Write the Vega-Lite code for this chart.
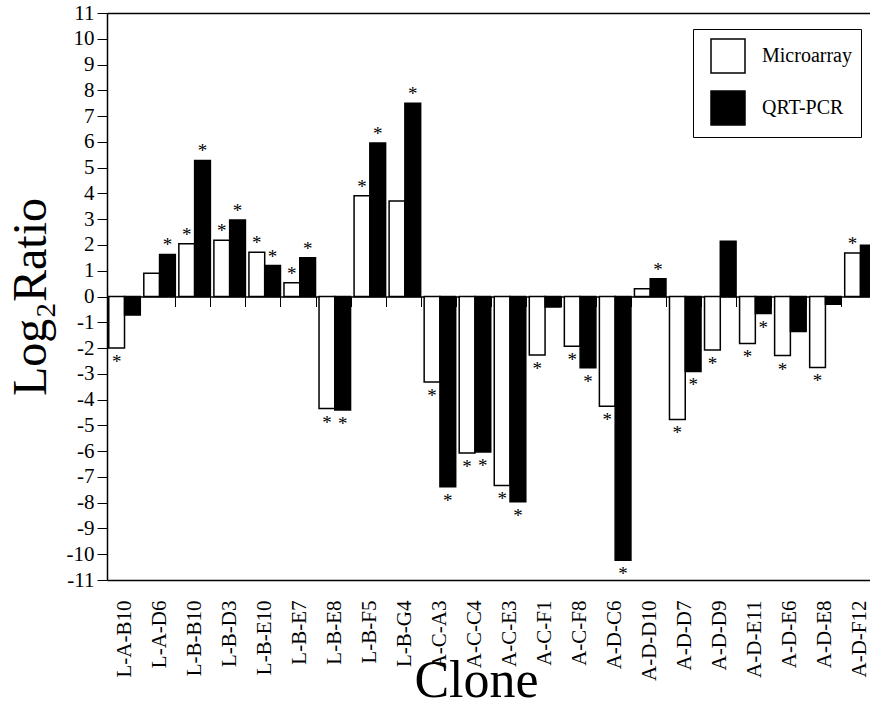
{
  "$schema": "https://vega.github.io/schema/vega-lite/v6.json",
  "width": 763,
  "height": 567,
  "autosize": {"type": "none"},
  "padding": {"left": 107, "top": 13, "right": 0, "bottom": 141},
  "background": "white",
  "config": {"font": "Liberation Serif", "view": {"stroke": null}, "axis": {"grid": false}, "axisY": {"labelFontSize": 21}},
  "data": {"values": [
    {"clone": "L-A-B10", "method": "Microarray", "value": -2.0, "sig": true},
    {"clone": "L-A-B10", "method": "QRT-PCR", "value": -0.72, "sig": false},
    {"clone": "L-A-D6", "method": "Microarray", "value": 0.9, "sig": false},
    {"clone": "L-A-D6", "method": "QRT-PCR", "value": 1.63, "sig": true},
    {"clone": "L-B-B10", "method": "Microarray", "value": 2.05, "sig": true},
    {"clone": "L-B-B10", "method": "QRT-PCR", "value": 5.28, "sig": true},
    {"clone": "L-B-D3", "method": "Microarray", "value": 2.18, "sig": true},
    {"clone": "L-B-D3", "method": "QRT-PCR", "value": 2.97, "sig": true},
    {"clone": "L-B-E10", "method": "Microarray", "value": 1.72, "sig": true},
    {"clone": "L-B-E10", "method": "QRT-PCR", "value": 1.2, "sig": true},
    {"clone": "L-B-E7", "method": "Microarray", "value": 0.53, "sig": true},
    {"clone": "L-B-E7", "method": "QRT-PCR", "value": 1.5, "sig": true},
    {"clone": "L-B-E8", "method": "Microarray", "value": -4.35, "sig": true},
    {"clone": "L-B-E8", "method": "QRT-PCR", "value": -4.4, "sig": true},
    {"clone": "L-B-F5", "method": "Microarray", "value": 3.91, "sig": true},
    {"clone": "L-B-F5", "method": "QRT-PCR", "value": 5.96, "sig": true},
    {"clone": "L-B-G4", "method": "Microarray", "value": 3.71, "sig": false},
    {"clone": "L-B-G4", "method": "QRT-PCR", "value": 7.5, "sig": true},
    {"clone": "A-C-A3", "method": "Microarray", "value": -3.32, "sig": true},
    {"clone": "A-C-A3", "method": "QRT-PCR", "value": -7.38, "sig": true},
    {"clone": "A-C-C4", "method": "Microarray", "value": -6.07, "sig": true},
    {"clone": "A-C-C4", "method": "QRT-PCR", "value": -6.03, "sig": true},
    {"clone": "A-C-E3", "method": "Microarray", "value": -7.33, "sig": true},
    {"clone": "A-C-E3", "method": "QRT-PCR", "value": -7.96, "sig": true},
    {"clone": "A-C-F1", "method": "Microarray", "value": -2.27, "sig": true},
    {"clone": "A-C-F1", "method": "QRT-PCR", "value": -0.41, "sig": false},
    {"clone": "A-C-F8", "method": "Microarray", "value": -1.93, "sig": true},
    {"clone": "A-C-F8", "method": "QRT-PCR", "value": -2.76, "sig": true},
    {"clone": "A-D-C6", "method": "Microarray", "value": -4.26, "sig": true},
    {"clone": "A-D-C6", "method": "QRT-PCR", "value": -10.23, "sig": true},
    {"clone": "A-D-D10", "method": "Microarray", "value": 0.3, "sig": false},
    {"clone": "A-D-D10", "method": "QRT-PCR", "value": 0.69, "sig": true},
    {"clone": "A-D-D7", "method": "Microarray", "value": -4.77, "sig": true},
    {"clone": "A-D-D7", "method": "QRT-PCR", "value": -2.91, "sig": true},
    {"clone": "A-D-D9", "method": "Microarray", "value": -2.08, "sig": true},
    {"clone": "A-D-D9", "method": "QRT-PCR", "value": 2.14, "sig": false},
    {"clone": "A-D-E11", "method": "Microarray", "value": -1.82, "sig": true},
    {"clone": "A-D-E11", "method": "QRT-PCR", "value": -0.66, "sig": true},
    {"clone": "A-D-E6", "method": "Microarray", "value": -2.29, "sig": true},
    {"clone": "A-D-E6", "method": "QRT-PCR", "value": -1.36, "sig": false},
    {"clone": "A-D-E8", "method": "Microarray", "value": -2.75, "sig": true},
    {"clone": "A-D-E8", "method": "QRT-PCR", "value": -0.3, "sig": false},
    {"clone": "A-D-F12", "method": "Microarray", "value": 1.69, "sig": true},
    {"clone": "A-D-F12", "method": "QRT-PCR", "value": 1.99, "sig": false}
  ]},
  "layer": [
    {
      "mark": {"type": "bar", "stroke": "black", "strokeWidth": 1.5, "clip": true},
      "encoding": {
        "x": {"field": "clone", "type": "nominal", "sort": null,
          "scale": {"range": [0, 771], "paddingInner": 0.1, "paddingOuter": 0.05},
          "axis": {"orient": "bottom", "title": "Clone", "labelAngle": 270, "labelFontSize": 21, "labelColor": "black",
            "ticks": false, "tickSize": 0, "labelPadding": 20, "domainColor": "black", "domainWidth": 1.5,
            "titleFontSize": 52, "titleFontWeight": "normal", "titleColor": "black", "titleX": 369, "titleY": 116,
            "titleBaseline": "alphabetic", "titleAlign": "center"}},
        "xOffset": {"field": "method", "type": "nominal", "sort": null, "scale": {"domain": ["Microarray", "QRT-PCR"]}},
        "y": {"field": "value", "type": "quantitative", "scale": {"domain": [-11, 11], "nice": false},
          "axis": {"title": "Log₂Ratio", "values": [-11,-10,-9,-8,-7,-6,-5,-4,-3,-2,-1,0,1,2,3,4,5,6,7,8,9,10,11],
            "labelExpr": "(datum.value < 0 ? '-' : '') + abs(datum.value)",
            "labelFontSize": 21, "labelFont": "Liberation Serif", "labelColor": "black", "tickSize": 10, "tickColor": "black", "tickWidth": 1,
            "labelPadding": 3, "domainColor": "black", "domainWidth": 1.5,
            "titleFontSize": 48, "titleFontWeight": "normal", "titleColor": "black", "titleX": -62, "titleY": 283.5,
            "titleAngle": 270, "titleBaseline": "alphabetic", "titleAlign": "center"}},
        "fill": {"field": "method", "type": "nominal",
          "scale": {"domain": ["Microarray", "QRT-PCR"], "range": ["white", "black"]},
          "legend": {"title": null, "orient": "none", "legendX": 586, "legendY": 16, "direction": "vertical",
            "padding": 9, "symbolOffset": 8, "symbolType": "square", "symbolSize": 1156,
            "symbolStrokeColor": "black", "symbolStrokeWidth": 1.5, "labelFontSize": 20, "labelFont": "Liberation Serif",
            "labelColor": "black", "labelOffset": 16, "rowPadding": 12, "strokeColor": "black", "fillColor": "white"}}
      }
    },
    {
      "transform": [{"filter": "datum.sig && datum.value > 0"}],
      "mark": {"type": "text", "text": "*", "fontSize": 19, "dy": -3, "baseline": "alphabetic", "color": "black", "clip": true},
      "encoding": {
        "x": {"field": "clone", "type": "nominal", "sort": null,
          "axis": {"orient": "bottom", "offset": -283.5, "labels": false, "title": null, "tickBand": "extent",
            "tickSize": 10, "tickColor": "black", "tickWidth": 1, "domainColor": "black", "domainWidth": 1.5}},
        "xOffset": {"field": "method", "type": "nominal", "sort": null},
        "y": {"field": "value", "type": "quantitative", "axis": null}
      }
    },
    {
      "transform": [{"filter": "datum.sig && datum.value < 0"}],
      "mark": {"type": "text", "text": "*", "fontSize": 19, "dy": 20, "baseline": "alphabetic", "color": "black", "clip": true},
      "encoding": {
        "x": {"field": "clone", "type": "nominal", "sort": null,
          "axis": {"orient": "top", "labels": false, "ticks": false, "title": null, "domainColor": "black", "domainWidth": 1.5}},
        "xOffset": {"field": "method", "type": "nominal", "sort": null},
        "y": {"field": "value", "type": "quantitative", "axis": null}
      }
    }
  ],
  "resolve": {"axis": {"x": "independent", "y": "independent"}}
}
